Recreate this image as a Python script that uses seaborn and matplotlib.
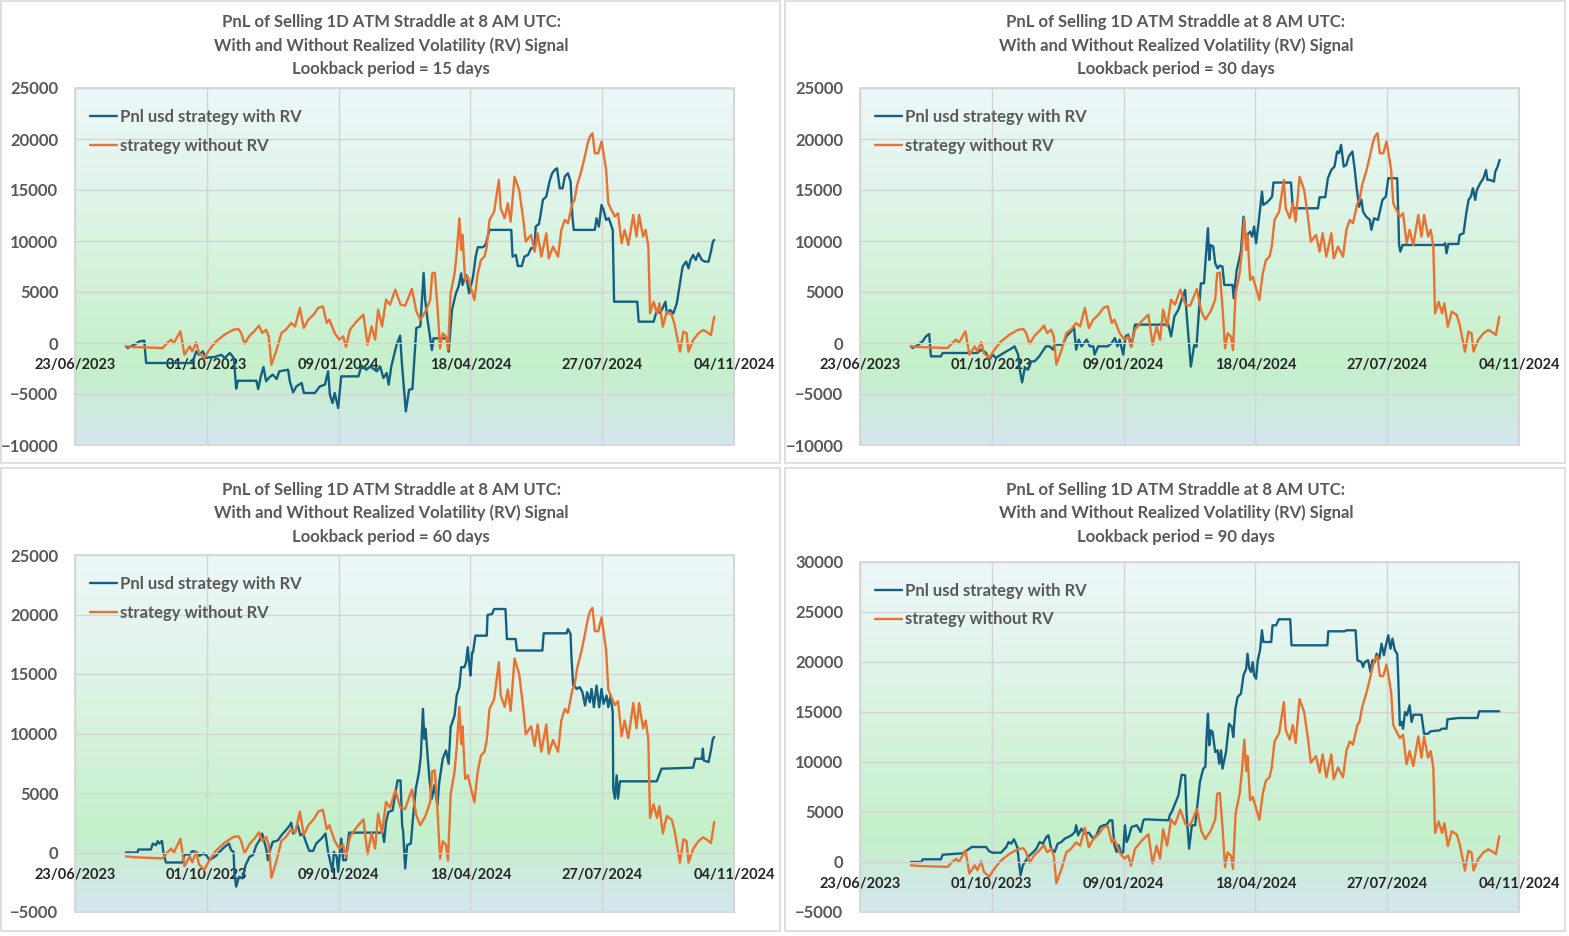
import numpy as np
import pandas as pd
import matplotlib
matplotlib.use('Agg')
import matplotlib.pyplot as plt
import matplotlib.dates as mdates
from matplotlib.colors import LinearSegmentedColormap
from matplotlib.patches import Rectangle
import seaborn as sns

START = pd.Timestamp('2023-06-23')
TICK_DAYS = [0, 100, 200, 300, 400, 500]

# days after 23/06/2023 and PnL (usd)
# "strategy without RV" is the same in all four charts
no_rv_days = [38.6, 45, 55, 66.5, 70, 73, 75, 80, 83, 87, 89, 92, 94, 98, 102, 107, 113.5, 120, 124, 126,
              128.7, 132.5, 136, 139.6, 142, 145, 147, 149, 153, 156.6, 160, 164, 167, 170.6, 173.6, 177,
              181, 184.5, 188, 191, 193, 197, 200.5, 203.5, 205.6, 208.6, 213.7, 218.8, 222, 225, 227.7,
              230, 233, 236, 239, 243, 247, 250.5, 255.6, 259, 262, 266, 269.5, 271, 273, 275, 277, 279,
              281.5, 283, 285, 288, 289.6, 291.6, 293, 294, 296, 298, 300.5, 303, 305.6, 308, 310.7, 312.4,
              314.5, 318, 321.6, 323, 326, 328.4, 330.5, 333.5, 337, 340, 342, 346, 348.7, 351, 353.8,
              357.6, 359.4, 362.7, 366.5, 369, 371.6, 374, 377.4, 379, 381, 384, 386.8, 389, 390.6, 392.6,
              394.4, 397, 399.5, 401, 403, 404.6, 407, 409.6, 412, 414.7, 417, 419.8, 423.6, 426, 428, 431,
              433, 435, 436.3, 439, 441.6, 443.4, 446, 449, 452.8, 455, 459, 461.6, 464, 465.5, 469, 473,
              476.6, 479, 482.5, 485]
no_rv_pnl = [-330, -400, -440, -490, 0, 330, 0, 1150, -1150, -330, -820, 65, -980, -1470, -650, 160, 820, 1300, 1370, 980,
             -65, 720, 1150, 1700, 980, 1300, 650, -2125, -650, 980, 1300, 1960, 1630, 3430, 1470, 2290,
             2780, 3430, 3600, 1960, 2290, 980, 330, 650, -390, 1300, 2125, 2780, -160, 1630, 330,
             3270, 1630, 4250, 3760, 5230, 3760, 3660, 5300, 3100, 2290, 3100, 4250, 6830, 6900, 3560, -520, 950,
             620, -690, 4870, 6830, 8800, 12230, 9120, 10600, 6180, 6500, 5360, 4220, 6830, 8140, 8470, 9450,
             12070, 12880, 15990, 13200, 12230, 13700, 11900, 16300, 15000, 12230, 9940, 10600, 8960, 10760, 8470,
             10760, 8300, 9450, 8470, 11090, 12070, 11740, 13700, 14030, 15500, 16800, 18280, 19590, 20240, 20570,
             18600, 18600, 19750, 18600, 16970, 13700, 13050, 12390, 12720, 9780, 11090, 9610, 12560, 10430, 12560, 10430,
             11090, 9450, 2910, 4050, 2910, 3890, 1600, 3070, 2750, 1770, -850, 1110, 950, -850, 290, 950,
             1275, 1110, 785, 2580]

rv15_days = [38.6, 40, 45, 49, 52.5, 54, 89, 92, 94, 97, 99.5, 102, 106, 111, 113.5, 117.5, 120.5, 122.3, 123.6,
             137.6, 139, 141, 143, 145, 147, 150, 153, 155, 161.7, 163, 165.5, 168, 172, 173.6, 182, 185.8,
             189.6, 192, 193.4, 195.4, 197, 199.7, 202, 215, 217.5, 221, 224, 229, 231.5, 234, 236.5, 238, 240,
             244, 246.7, 248, 251, 253.5, 256, 259, 262, 264.5, 265.7, 267.5, 269, 270.8, 272, 282.7, 283.5,
             286, 289, 291, 293, 294, 296.7, 299, 302, 304, 305.6, 309.4, 311.4, 314.5, 331, 332, 334.5, 336,
             339, 341, 343.7, 346, 348.7, 349.5, 352, 353, 355, 357.6, 360, 362, 364, 365.7, 367.8, 370, 371.6,
             374, 376, 377.4, 378.4, 394.4, 395.7, 397.5, 399.5, 401, 403, 405, 408, 409, 426.6, 427.7, 439,
             441.6, 444, 448, 449, 451.5, 454, 456.6, 459, 461, 463.7, 465.5, 467, 469, 471, 473, 475.6, 478,
             480.7, 482.5, 484, 485]
rv15_pnl = [-330, -490, -160, 160, 230, -1960, -1960, -820, -1150, -820, -1470, -1400, -1370, -1150, -1470, -980, -1470, -4480, -3700,
            -3700, -4510, -3270, -2350, -3760, -3430, -3100, -3530, -2780, -2620, -3760, -4840, -4250, -3920, -4900, -4900, -4250,
            -4090, -2780, -5070, -5890, -4900, -6380, -3270, -3270, -2220, -2620, -2290, -2780, -2290, -3430, -2940, -4090, -2290,
            -160, 720, -1960, -6700, -4580, -4510, 1470, 1630, 6870, 4220, 2260, 950, -690, 460, 460, -850,
            3240, 4870, 5530, 6830, 5690, 6670, 4870, 6500, 8470, 9390, 9390, 9610, 11090, 11090, 8470, 8630, 7550,
            7550, 8470, 8630, 9290, 9290, 11410, 11670, 12390, 14030, 14360, 15830, 16640, 16970, 17130, 15170, 15170, 16320,
            16640, 15830, 12390, 11090, 11090, 12230, 11410, 13540, 13050, 12070, 12230, 11090, 4050, 4050, 2090, 2090,
            3240, 2910, 4050, 2910, 3240, 2910, 3890, 5850, 7490, 7980, 7320, 8140, 8630, 8140, 8800, 8140, 7980,
            7980, 8960, 9940, 10100]

rv30_days = [38.6, 40, 43.6, 47.5, 50, 52.5, 53.8, 61.4, 62.7, 89, 92, 95.7, 98, 100.8, 103, 107, 111, 113.5, 117.3,
             120, 121, 123, 125, 127.4, 130, 132.5, 136, 141, 144, 146.4, 147.7, 154, 156.6, 160, 162.4, 164, 166,
             168, 172, 174.4, 177, 178, 180.7, 188, 191, 193.4, 195.4, 197, 199.7, 201.5, 203.5, 206, 208.6, 234,
             236, 238.6, 241.6, 243.6, 246.7, 247.7, 251, 253.6, 255.3, 257.4, 258.6, 261, 262.4, 264, 265, 266,
             268, 269.5, 271.3, 273, 275, 276.4, 282.7, 283.5, 285.8, 287.3, 289, 291, 292.4, 294, 296, 297.5,
             299, 300.5, 302.5, 305, 306, 308, 310.7, 312.7, 313.7, 327, 328.4, 347.5, 348.7, 353, 355, 357.6,
             360, 362, 363.5, 365, 367, 369, 370.8, 373.6, 375.4, 377, 378.7, 380.5, 381.7, 384, 386.8, 388, 390,
             393, 395, 396.4, 399, 400.8, 407.6, 408.4, 409, 410, 411.7, 442.6, 444, 445, 446.4, 454, 455, 457.9,
             460, 461.7, 463.5, 465, 466.8, 468, 470.6, 473, 475, 476, 478, 481, 482, 483.8, 485.3]
rv30_pnl = [-330, -490, -230, 160, 650, 880, -1310, -1310, -980, -980, -650, -980, -1640, -1140, -1470, -1140, -820, -650, -330,
            -1140, -2450, -3860, -2450, -2620, -1800, -1800, -1310, -330, -330, -650, -160, -160, 650, 1140, 1470, -650, 330,
            -330, 330, -330, -330, -1140, -330, -330, 0, 490, -330, 330, -1140, 650, 820, -330, 1800, 1800,
            650, 2620, 3270, 4090, 5200, 3070, -2320, -200, -360, 3560, 5850, 5850, 8470, 11250, 8140, 9610,
            9450, 7820, 7320, 7590, 7490, 5690, 5690, 4380, 7160, 7980, 8960, 12390, 10600, 10600, 10920, 10430,
            11410, 9780, 11900, 14850, 13540, 13700, 14030, 14360, 15730, 15730, 13210, 13210, 14290, 14290, 16150, 16970,
            17300, 18770, 18610, 19420, 17300, 17460, 18280, 18770, 16970, 15010, 13370, 14030, 12880, 12390, 12070, 11090, 12230,
            12070, 13210, 14030, 14360, 16150, 16150, 12720, 9610, 8960, 9610, 9610, 9780, 8800, 9710, 9710, 10600, 10760,
            12720, 14030, 14360, 15170, 14030, 15010, 15660, 16150, 16970, 15990, 15990, 15830, 16800, 17300, 17950]

rv60_days = [38.6, 47.5, 48, 57.6, 59, 61.4, 62.7, 64, 66, 67, 69, 81.7, 83, 87, 89, 92, 94.4, 97.5, 100, 102, 107,
             109.6, 113.5, 116.8, 118.5, 120.3, 121, 122.3, 124.4, 127, 129.4, 132.5, 135, 137.6, 140, 142, 143, 145,
             146.4, 148, 150, 152, 154, 156.6, 160, 163, 164, 165.5, 167.5, 169, 171, 173, 175.6, 177.7, 180.7, 183,
             187, 190, 192, 193.4, 195.4, 196.4, 198.5, 199.7, 201, 202, 203.5, 205.6, 206.6, 208, 233.5, 234.5, 236,
             237.8, 239, 241, 243, 244.7, 247, 248.2, 249, 250.5, 252, 254.8, 256.6, 258.6, 261, 262.4, 264, 265,
             266, 267.5, 269, 270.8, 272.6, 275, 276.4, 279, 281.5, 283.5, 285, 288, 289.6, 291.6, 293, 295.4, 296.7,
             298, 299, 300, 301.3, 302, 303.8, 312.4, 313, 316.5, 318, 326.6, 327.7, 334.3, 335.3, 354.6, 355.6, 373,
             374, 376, 376.6, 378, 379, 380.5, 383, 385, 387, 388.6, 390.6, 391.9, 393.7, 395.7, 397.7, 399.5, 401,
             403.3, 404.6, 406.3, 408, 408.4, 409.6, 411, 412, 413.5, 441.4, 445, 469, 470.6, 475.6, 476.4, 477,
             480.7, 482.5, 484, 485]
rv60_pnl = [0, 0, 250, 250, 750, 610, 950, 750, 980, 55, -840, -840, -170, -170, 110, 55, -280, -85, -280, -640, -280,
            55, 470, 750, 195, 55, -1900, -2870, -2040, -2180, -1060, -360, -220, 610, 1030, 1590, 1170, 335,
            -640, 195, 890, 950, 1030, 1450, 1870, 2290, 2510, 1590, 1870, 2290, 1450, 1590, 750, 140, 140, 750,
            1170, 1590, 55, -640, -1620, 55, -360, -1620, 55, 1170, -640, -640, 470, 1670, 1670, 890, 2570,
            3400, 3460, 3540, 4940, 6050, 6050, 2290, 1730, -1340, 610, 750, 3130, 5370, 6760, 8160, 12070, 9560,
            10400, 8160, 6070, 4530, 5650, 3970, 5930, 7880, 8580, 7460, 10540, 11520, 13190, 13890, 15570, 15570, 15990,
            17250, 15990, 14870, 16830, 16830, 18220, 18220, 19960, 20040, 20460, 20460, 17940, 17940, 16970, 16970, 18420, 18420,
            18780, 18360, 16550, 14030, 14030, 13750, 13890, 13470, 12350, 13470, 12630, 13750, 12210, 14030, 12210, 13750, 12490,
            13190, 12210, 13190, 11790, 5370, 4530, 6480, 4530, 5980, 5980, 7040, 7130, 7880, 7880, 8720, 7740,
            7600, 8580, 9560, 9700]

rv90_days = [38.6, 46.7, 47.5, 61.4, 62.7, 78, 80.5, 84.8, 95.7, 98, 100.8, 107, 111, 112.7, 114.7, 116.8, 119.3,
             120.3, 121.8, 123.6, 126, 128.7, 131, 133.8, 136.3, 138.8, 141.4, 143, 145, 147.7, 150, 152.8, 155.3,
             158, 160.4, 163, 164, 165.5, 168, 170.6, 173.6, 177, 179.4, 182, 184.5, 187, 189.6, 191.4, 193, 194.7,
             196.4, 198, 199.7, 201, 202.3, 203.5, 206, 210, 213, 215, 216, 234, 235, 236.5, 239, 241.6, 244, 246.7,
             247.7, 249.7, 251.8, 254.3, 256, 257.9, 260.4, 262, 263, 264, 265, 266.2, 267.5, 269.5, 271.3, 272.6,
             273.9, 275, 276.4, 277.7, 280, 282.2, 283.2, 284.8, 286.5, 289, 291, 293, 294, 295.4, 296.7, 298, 299,
             300.5, 301.8, 303.5, 305, 306, 312, 313, 315.7, 317.8, 326.4, 327.4, 354.6, 355.3, 367.8, 369, 376,
             377.4, 380.4, 381.7, 383, 385.5, 387.3, 388.8, 390.6, 392, 394, 395.7, 397.5, 399, 400.8, 402.5, 404,
             405.8, 407.6, 408.4, 409.6, 411, 412, 413.5, 415, 417, 418.5, 420, 426, 428, 431, 433, 440, 441.4, 445,
             445.7, 454, 468.5, 469.8, 485]
rv90_pnl = [0, 0, 270, 270, 730, 870, 1100, 1500, 1500, 1070, 930, 930, 1500, 2000, 1830, 2270, 1500,
            330, -1330, -330, 170, 670, 930, 1330, 2000, 1830, 2500, 2670, 1330, 1000, 1830, 2000, 2330,
            2500, 2670, 3000, 3670, 2670, 3330, 2830, 2930, 2330, 2670, 3500, 3670, 3730, 4170, 4170, 1670, 1000,
            1670, 830, 1000, 3670, 2000, 2330, 3500, 3670, 3000, 4170, 4270, 4170, 4670, 5000, 5830, 6670, 8730, 8670,
            5000, 1330, 3670, 3670, 5670, 8000, 9330, 9500, 12670, 14830, 11670, 13170, 13000, 11000, 11170, 9830,
            11170, 9330, 10170, 11000, 13830, 13500, 12500, 15330, 16500, 16830, 18670, 19330, 20830, 19330, 19000, 20000, 18670,
            18330, 20170, 21170, 23170, 22000, 22000, 23670, 23670, 24270, 24270, 21670, 21670, 23070, 23070, 23170, 23170,
            20170, 20000, 19500, 20000, 20170, 19000, 20170, 20000, 20830, 20330, 21830, 20670, 21670, 22670, 21330, 22330,
            21170, 20830, 18330, 13670, 14000, 13330, 15000, 14670, 15670, 14000, 14730, 14730, 12830, 12830, 13070, 13170, 13330, 13330,
            14270, 14400, 14400, 15070, 15070]

lookbacks = [15, 30, 60, 90]
rv_days = [rv15_days, rv30_days, rv60_days, rv90_days]
rv_pnl = [rv15_pnl, rv30_pnl, rv60_pnl, rv90_pnl]
y_ranges = [(-10000, 25000), (-10000, 25000), (-5000, 25000), (-5000, 30000)]

W, H = 1569, 936
# plot area (left, top, right, bottom) and chart box in pixels
plot_px = [(75, 88, 734, 445), (860, 88, 1519, 445), (75, 555, 734, 912), (860, 562, 1519, 912)]
box_px = [(1, 1, 780, 463), (785, 1, 1565, 463), (1, 468, 780, 931), (785, 468, 1565, 931)]
title_px = [(391, [22, 46, 69]), (1176, [22, 46, 69]), (391, [490, 513, 537]), (1176, [490, 513, 537])]

BLUE = '#156082'
ORANGE = '#E97132'
GREY = '#595959'
GRID = '#D4D4D4'

sns.set_style('white')
plt.rcParams['font.family'] = ['Lato', 'DejaVu Sans']
plt.rcParams['font.weight'] = 'bold'

bg = LinearSegmentedColormap.from_list('bg', [(0, '#EDF7FA'), (0.45, '#D8F3DF'), (0.78, '#C4F0CA'), (1, '#D5E6EF')])


def to_dates(days):
    return START + pd.to_timedelta(np.array(days), unit='D')


fig = plt.figure(figsize=(W / 100, H / 100), dpi=100)

for i, lb in enumerate(lookbacks):
    x0, y0, x1, y1 = box_px[i]
    fig.add_artist(Rectangle((x0 / W, 1 - y1 / H), (x1 - x0) / W, (y1 - y0) / H, transform=fig.transFigure,
                             fill=False, edgecolor='#D9D9D9', lw=1.2))

    l, t, r, b = plot_px[i]
    ax = fig.add_axes([l / W, 1 - b / H, (r - l) / W, (b - t) / H])

    sns.lineplot(x=to_dates(rv_days[i]), y=rv_pnl[i], ax=ax, color=BLUE, lw=1.7,
                 estimator=None, sort=False, label='Pnl usd strategy with RV')
    sns.lineplot(x=to_dates(no_rv_days), y=no_rv_pnl, ax=ax, color=ORANGE, lw=1.7,
                 estimator=None, sort=False, label='strategy without RV')

    ticks = to_dates(TICK_DAYS)
    xmin, xmax = mdates.date2num(ticks[0]), mdates.date2num(ticks[-1])
    ymin, ymax = y_ranges[i]
    grad = np.linspace(0, 1, 256).reshape(-1, 1)
    ax.imshow(grad, extent=[xmin, xmax, ymin, ymax], aspect='auto', cmap=bg, zorder=0)
    ax.set_xlim(xmin, xmax)
    ax.set_ylim(ymin, ymax)

    ax.set_xticks(ticks)
    ax.set_xticklabels([d.strftime('%d/%m/%Y') for d in ticks], fontweight='bold', color='#555555')
    ax.set_yticks(range(ymin, ymax + 1, 5000))
    ax.set_axisbelow(True)
    ax.grid(True, color=GRID, lw=1)
    ax.tick_params(axis='x', length=0, pad=11, labelsize=10.5)
    ax.tick_params(axis='y', length=0, pad=12, labelsize=12, labelcolor=GREY)
    ax.set_xlabel('')
    ax.set_ylabel('')

    for s in ['top', 'left', 'right']:
        ax.spines[s].set_color(GRID)
    ax.spines['bottom'].set_position(('data', 0))
    ax.spines['bottom'].set_color(GRID)
    ax.add_patch(Rectangle((0, 0), 1, 1, transform=ax.transAxes, fill=False, edgecolor=GRID, lw=1.2,
                           clip_on=False, zorder=5))

    leg = ax.legend(loc='upper left', bbox_to_anchor=(0, 0.983), frameon=False, fontsize=12,
                    handlelength=1.6, handletextpad=0.2, labelspacing=0.75)
    for txt in leg.get_texts():
        txt.set_color(GREY)

    cx, ys = title_px[i]
    lines = ['PnL of Selling 1D ATM Straddle at 8 AM UTC:',
             'With and Without Realized Volatility (RV) Signal',
             f'Lookback period = {lb} days']
    for line, yy in zip(lines, ys):
        fig.text(cx / W, 1 - yy / H, line, ha='center', va='center', fontsize=12, color=GREY)

fig.savefig('out.png', dpi=100)
